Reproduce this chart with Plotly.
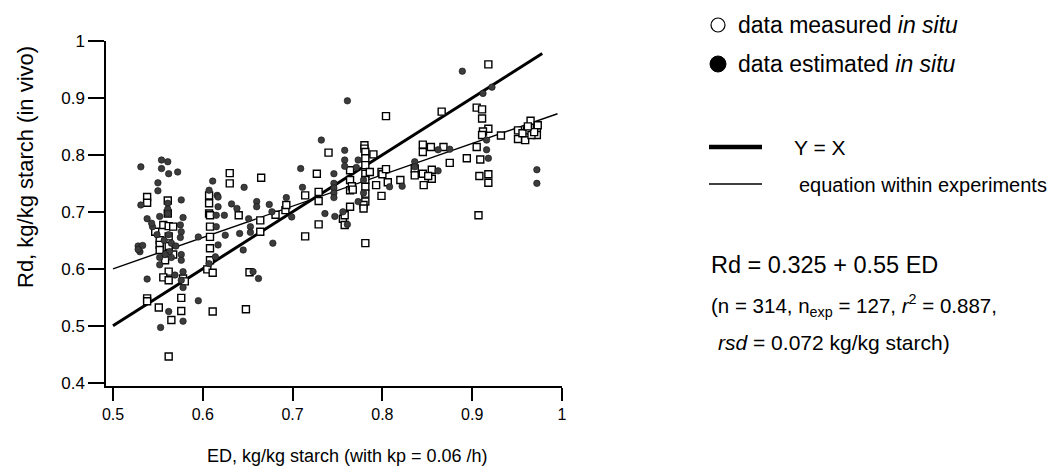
import plotly.graph_objects as go

# ---------------- data ----------------
measured_x = [
    0.538, 0.538, 0.538, 0.538, 0.551, 0.562, 0.556, 0.562, 0.578, 0.580,
    0.576, 0.576, 0.565, 0.562, 0.552, 0.552, 0.552, 0.556, 0.562, 0.567,
    0.562, 0.562, 0.558, 0.567, 0.547, 0.561, 0.561,
    0.607, 0.607, 0.607, 0.608, 0.608, 0.608, 0.608, 0.608, 0.605, 0.611, 0.611,
    0.630, 0.630, 0.640, 0.665, 0.664, 0.664, 0.648, 0.652, 0.681, 0.692, 0.693,
    0.714, 0.714, 0.727, 0.729, 0.729, 0.729, 0.740,
    0.756, 0.758, 0.758, 0.764, 0.764, 0.764, 0.764, 0.766, 0.767,
    0.780, 0.780, 0.781, 0.781, 0.781, 0.781, 0.781, 0.781, 0.781, 0.781, 0.779, 0.779, 0.781,
    0.790, 0.786, 0.793, 0.799, 0.800, 0.799, 0.804, 0.806, 0.804, 0.820,
    0.836, 0.836, 0.845, 0.854, 0.845, 0.845, 0.855, 0.855, 0.846, 0.851,
    0.866, 0.868, 0.875, 0.894,
    0.905, 0.911, 0.911, 0.918, 0.912, 0.911, 0.905, 0.909, 0.908, 0.918, 0.918, 0.918, 0.907, 0.932,
    0.965, 0.951, 0.951, 0.959, 0.972, 0.972, 0.961, 0.966, 0.956, 0.973, 0.969, 0.962,
]
measured_y = [
    0.726, 0.716, 0.548, 0.543, 0.532, 0.595, 0.585, 0.580, 0.583, 0.578,
    0.549, 0.526, 0.510, 0.446, 0.650, 0.642, 0.633, 0.677, 0.675, 0.674,
    0.657, 0.640, 0.615, 0.625, 0.665, 0.720, 0.697,
    0.729, 0.715, 0.697, 0.694, 0.674, 0.656, 0.636, 0.615, 0.599, 0.593, 0.525,
    0.768, 0.750, 0.694, 0.760, 0.685, 0.665, 0.529, 0.594, 0.695, 0.703, 0.712,
    0.729, 0.657, 0.767, 0.735, 0.719, 0.678, 0.804,
    0.688, 0.694, 0.677, 0.709, 0.773, 0.756, 0.738, 0.745, 0.739,
    0.817, 0.811, 0.805, 0.794, 0.782, 0.767, 0.756, 0.744, 0.732, 0.718, 0.712, 0.706, 0.645,
    0.801, 0.770, 0.747, 0.770, 0.766, 0.728, 0.775, 0.752, 0.868, 0.756,
    0.776, 0.764, 0.818, 0.814, 0.805, 0.767, 0.774, 0.758, 0.747, 0.763,
    0.876, 0.814, 0.786, 0.794,
    0.883, 0.880, 0.864, 0.846, 0.841, 0.835, 0.814, 0.792, 0.763, 0.766, 0.751, 0.959, 0.694, 0.834,
    0.860, 0.843, 0.828, 0.826, 0.846, 0.835, 0.843, 0.835, 0.838, 0.852, 0.840, 0.850,
]

estimated_x = [
    0.531, 0.554, 0.561, 0.554, 0.562, 0.572, 0.550, 0.550, 0.531, 0.561, 0.561, 0.561,
    0.538, 0.552, 0.578, 0.544, 0.543, 0.576, 0.576, 0.575,
    0.611, 0.607, 0.616,
    0.528, 0.533, 0.530, 0.528,
    0.549, 0.557, 0.562, 0.565, 0.563, 0.558, 0.565, 0.552, 0.576, 0.576, 0.570, 0.575,
    0.552, 0.538, 0.569, 0.578, 0.578, 0.576, 0.562, 0.578, 0.553, 0.595, 0.595,
    0.607, 0.614, 0.617, 0.617, 0.615, 0.615, 0.624, 0.617,
    0.632, 0.638, 0.646, 0.651, 0.653, 0.641, 0.653, 0.625, 0.645, 0.656, 0.662,
    0.660, 0.660, 0.674, 0.677, 0.678, 0.693, 0.699, 0.709, 0.711, 0.732,
    0.746, 0.746, 0.746, 0.746, 0.746, 0.736, 0.747, 0.756, 0.761, 0.761,
    0.758, 0.758, 0.758, 0.773, 0.771, 0.773, 0.779, 0.779, 0.808, 0.822,
    0.836, 0.836, 0.862, 0.875, 0.862, 0.889, 0.922, 0.912, 0.916, 0.916, 0.918, 0.972, 0.972,
]
estimated_y = [
    0.779, 0.791, 0.788, 0.776, 0.767, 0.770, 0.751, 0.737, 0.712, 0.715, 0.705, 0.697,
    0.688, 0.692, 0.690, 0.674, 0.680, 0.721, 0.665, 0.677,
    0.754, 0.738, 0.729,
    0.640, 0.641, 0.630, 0.634,
    0.660, 0.650, 0.660, 0.645, 0.630, 0.625, 0.620, 0.620, 0.625, 0.615, 0.640, 0.655,
    0.607, 0.582, 0.589, 0.595, 0.567, 0.580, 0.525, 0.508, 0.497, 0.544, 0.656,
    0.609, 0.621, 0.642, 0.709, 0.674, 0.694, 0.694, 0.726,
    0.714, 0.706, 0.743, 0.688, 0.674, 0.662, 0.664, 0.659, 0.633, 0.595, 0.583,
    0.718, 0.709, 0.713, 0.700, 0.645, 0.725, 0.691, 0.776, 0.743, 0.826,
    0.767, 0.750, 0.742, 0.733, 0.725, 0.697, 0.692, 0.700, 0.895, 0.678,
    0.808, 0.791, 0.780, 0.791, 0.778, 0.718, 0.756, 0.733, 0.744, 0.745,
    0.788, 0.779, 0.809, 0.810, 0.772, 0.947, 0.919, 0.908, 0.826, 0.809, 0.794, 0.774, 0.750,
]

identity_x = [0.5, 0.978]          # Y = X
fit_x = [0.5, 0.995]               # equation within experiments
fit_intercept = 0.325
fit_slope = 0.55

x_tickvals = [0.5, 0.6, 0.7, 0.8, 0.9, 1.0]
x_ticktext = ["0.5", "0.6", "0.7", "0.8", "0.9", "1"]
y_tickvals = [0.4, 0.5, 0.6, 0.7, 0.8, 0.9, 1.0]
y_ticktext = ["0.4", "0.5", "0.6", "0.7", "0.8", "0.9", "1"]

# ---------------- layout geometry ----------------
# The page body adds an 8 px margin, so the figure is drawn 8 px smaller
# and all target pixel positions are shifted by that amount.
OFF = 8
W, H = 1064 - OFF, 473 - OFF
ML = 106 - OFF
MT = 41 - OFF
MR = W - (562 - OFF)
MB = H - (386 - OFF)
PW, PH = W - ML - MR, H - MT - MB

def px(x):
    return (x - OFF - ML) / PW

def py(y):
    return (H - MB - (y - OFF)) / PH

SANS = "Liberation Sans, Arial, sans-serif"

fig = go.Figure()
fig.add_trace(go.Scatter(x=identity_x, y=identity_x, mode="lines",
                         line=dict(color="black", width=3), hoverinfo="skip"))
fig.add_trace(go.Scatter(x=fit_x, y=[fit_intercept + fit_slope * v for v in fit_x],
                         mode="lines", line=dict(color="black", width=1.4), hoverinfo="skip"))
fig.add_trace(go.Scatter(x=measured_x, y=measured_y, mode="markers",
                         marker=dict(symbol="square", size=7, color="white",
                                     line=dict(color="black", width=1.4))))
fig.add_trace(go.Scatter(x=estimated_x, y=estimated_y, mode="markers",
                         marker=dict(symbol="circle", size=6.5, color="#3c3c3c",
                                     line=dict(color="#111111", width=0.6))))

fig.update_layout(
    width=W, height=H, showlegend=False,
    margin=dict(l=ML, r=MR, t=MT, b=MB, pad=0),
    paper_bgcolor="white", plot_bgcolor="white",
    xaxis=dict(range=[0.4922, 1.0], showline=True, linecolor="black", linewidth=1.5,
               ticks="outside", ticklen=13, tickwidth=1.5, tickcolor="black",
               tickvals=x_tickvals, ticktext=x_ticktext, showgrid=False, zeroline=False,
               tickfont=dict(family=SANS, size=16, color="black")),
    yaxis=dict(range=[0.3942, 1.0], showline=True, linecolor="black", linewidth=1.5,
               ticks="outside", ticklen=16, tickwidth=1.5, tickcolor="black",
               tickvals=y_tickvals, ticktext=y_ticktext, ticksuffix="\u00a0\u00a0",
               showgrid=False, zeroline=False,
               tickfont=dict(family=SANS, size=17, color="black")),
)

ann = []
ann.append(dict(text="Rd, kg/kg starch (in vivo)", x=px(25), y=py(167), textangle=-90,
                font=dict(family=SANS, size=22, color="black")))
ann.append(dict(text="ED, kg/kg starch (with kp = 0.06 /h)", x=px(347), y=py(456),
                font=dict(family=SANS, size=18, color="black")))
ann.append(dict(text="data measured <i>in situ</i>", x=px(736), y=py(25), xanchor="left",
                font=dict(family=SANS, size=23, color="black")))
ann.append(dict(text="data estimated <i>in situ</i>", x=px(736), y=py(64), xanchor="left",
                font=dict(family=SANS, size=23, color="black")))
ann.append(dict(text="Y = X", x=px(792), y=py(147), xanchor="left",
                font=dict(family=SANS, size=21, color="black")))
ann.append(dict(text="equation within experiments", x=px(797), y=py(185), xanchor="left",
                font=dict(family=SANS, size=20, color="black")))
ann.append(dict(text="Rd = 0.325 + 0.55 ED", x=px(709), y=py(265), xanchor="left",
                font=dict(family=SANS, size=23.5, color="black")))
ann.append(dict(text="(n = 314, n<sub>exp</sub> = 127, <i>r</i><sup>2</sup> = 0.887,",
                x=px(709), y=py(305), xanchor="left",
                font=dict(family=SANS, size=20.5, color="black")))
ann.append(dict(text="<i>rsd</i> = 0.072 kg/kg starch)", x=px(716), y=py(342), xanchor="left",
                font=dict(family=SANS, size=21, color="black")))
for a in ann:
    a.update(xref="paper", yref="paper", showarrow=False,
             xanchor=a.get("xanchor", "center"), yanchor="middle")
fig.update_layout(annotations=ann)

shapes = [
    dict(type="circle", xref="paper", yref="paper", xsizemode="pixel", ysizemode="pixel",
         xanchor=px(718), yanchor=py(25), x0=-7, x1=7, y0=-7, y1=7,
         line=dict(color="black", width=1.2), fillcolor="white"),
    dict(type="circle", xref="paper", yref="paper", xsizemode="pixel", ysizemode="pixel",
         xanchor=px(718), yanchor=py(64), x0=-8, x1=8, y0=-8, y1=8,
         line=dict(color="black", width=1), fillcolor="black"),
    dict(type="line", xref="paper", yref="paper", x0=px(709), x1=px(762), y0=py(147), y1=py(147),
         line=dict(color="black", width=4.5)),
    dict(type="line", xref="paper", yref="paper", x0=px(709), x1=px(762), y0=py(184), y1=py(184),
         line=dict(color="black", width=1.3)),
]
fig.update_layout(shapes=shapes)

fig.write_html("out.html")
